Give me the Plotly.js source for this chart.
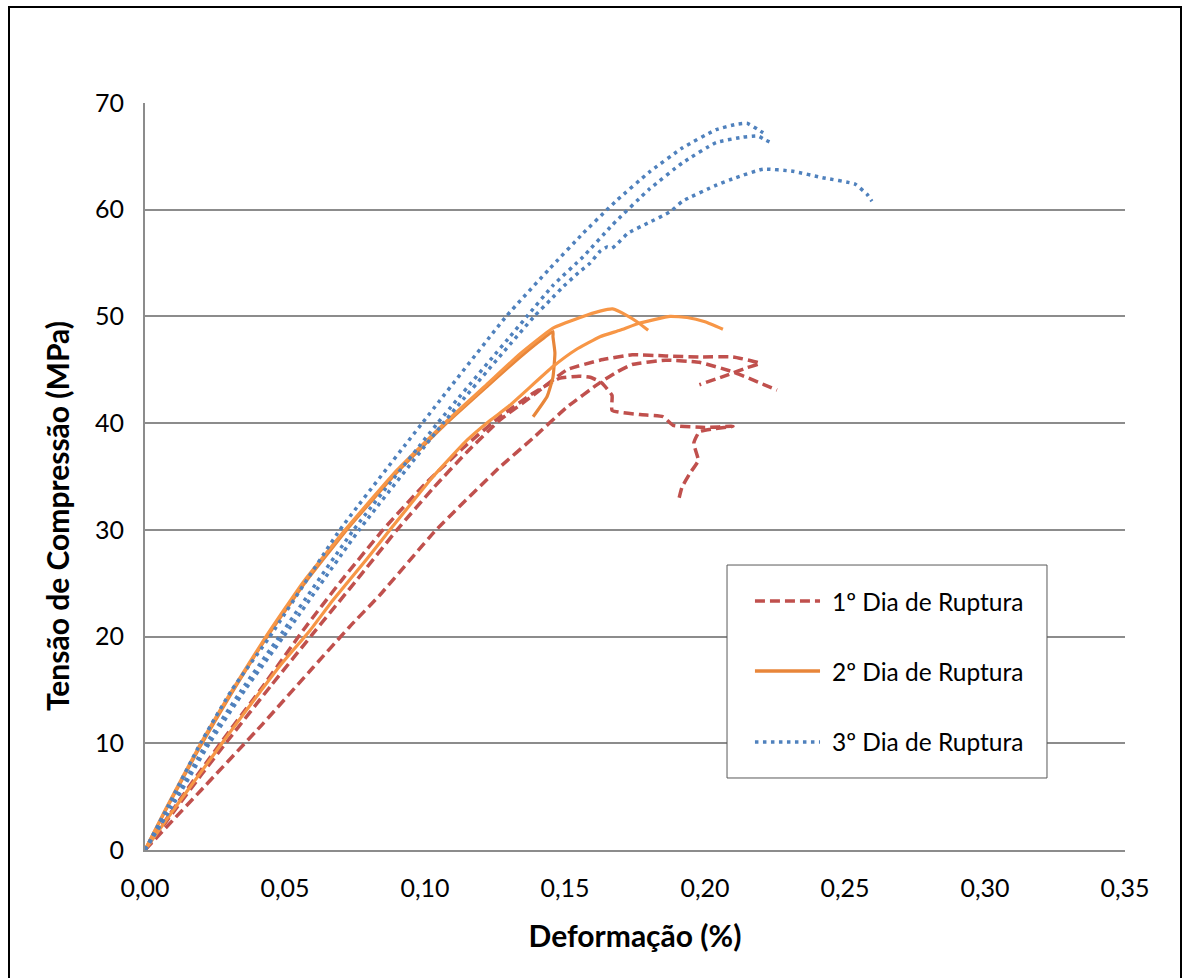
<!DOCTYPE html>
<html>
<head>
<meta charset="utf-8">
<script src="https://cdn.plot.ly/plotly-3.0.1.min.js"></script>
<style>
  html, body { margin: 0; padding: 0; background: #ffffff; }
  #wrap { position: relative; width: 1187px; height: 978px; }
  #chart { position: absolute; left: 0; top: 0; width: 1187px; height: 978px; }
  #frame { position: absolute; left: 8px; top: 6px; width: 1170px; height: 1000px;
           border-left: 2px solid #000; border-top: 2px solid #000; border-right: 2px solid #000;
           pointer-events: none; }
</style>
</head>
<body>
<div id="wrap">
  <div id="chart"></div>
  <div id="frame"></div>
</div>
<script>
// ---- Series names ----
const seriesNames = ["1º Dia de Ruptura", "2º Dia de Ruptura", "3º Dia de Ruptura"];
const xTitle = "Deformação (%)";
const yTitle = "Tensão de Compressão (MPa)";

// ---- 1º Dia de Ruptura (three specimens) ----
const r1x = [0, 0.01, 0.02, 0.03, 0.045, 0.061, 0.075, 0.09, 0.1029, 0.115, 0.1268, 0.1386, 0.1507, 0.1625, 0.174, 0.186, 0.198, 0.21, 0.2196, 0.215, 0.2079, 0.198];
const r1y = [0, 3.5, 7.0, 10.4, 15.4, 20.6, 25.1, 30.0, 33.9, 37.3, 40.3, 42.6, 45.0, 45.9, 46.4, 46.3, 46.2, 46.2, 45.6, 45.2, 44.5, 43.6];
const r2x = [0, 0.02, 0.042, 0.06, 0.073, 0.0839, 0.104, 0.1268, 0.1386, 0.1507, 0.1625, 0.1686, 0.174, 0.186, 0.198, 0.21, 0.2257];
const r2y = [0, 5.6, 11.8, 17.1, 20.9, 23.9, 30.0, 35.9, 38.6, 41.5, 43.8, 44.8, 45.5, 45.9, 45.7, 44.8, 43.1];
const r3x = [0, 0.01, 0.02, 0.03, 0.042, 0.0565, 0.07, 0.085, 0.1, 0.115, 0.1268, 0.1386, 0.148, 0.155, 0.159, 0.163, 0.1668, 0.1668, 0.1768, 0.185, 0.1886, 0.2, 0.21, 0.198, 0.196, 0.1976, 0.1946, 0.1918, 0.1904];
const r3y = [0, 3.8, 7.5, 11.1, 15.3, 20.6, 25.2, 30.0, 34.3, 38.0, 40.6, 42.8, 44.2, 44.4, 44.3, 43.8, 42.6, 41.2, 40.8, 40.6, 39.8, 39.6, 39.7, 39.2, 38.1, 36.5, 35.3, 34.0, 32.6];

// ---- 2º Dia de Ruptura ----
const o1x = [0, 0.0075, 0.0195, 0.03, 0.0436, 0.057, 0.072, 0.09, 0.1077, 0.122, 0.134, 0.1457, 0.1457, 0.1464, 0.1457, 0.1436, 0.1386];
const o1y = [0, 3.8, 9.6, 14.3, 20, 25.0, 30, 35.4, 40, 43.4, 46.2, 48.6, 48.1, 46.6, 44.3, 42.5, 40.6];
const o2x = [0, 0.0075, 0.0193, 0.0298, 0.0432, 0.0565, 0.0715, 0.09, 0.107, 0.122, 0.134, 0.1457, 0.1554, 0.1625, 0.167, 0.172, 0.1757, 0.1797];
const o2y = [0, 3.9, 9.7, 14.4, 20, 25.1, 30, 35.6, 40, 43.6, 46.5, 48.9, 49.9, 50.5, 50.7, 50.1, 49.5, 48.7];
const o3x = [0, 0.01, 0.02, 0.03, 0.048, 0.059, 0.0671, 0.0793, 0.0875, 0.1029, 0.115, 0.123, 0.13, 0.1457, 0.154, 0.1625, 0.1696, 0.177, 0.1875, 0.1936, 0.2, 0.2064];
const o3y = [0, 3.7, 7.3, 10.9, 17.2, 20.6, 23.4, 27.3, 30.0, 35.0, 38.4, 40.2, 41.6, 45.3, 46.9, 48.1, 48.7, 49.4, 50.0, 49.9, 49.5, 48.8];

// ---- 3º Dia de Ruptura ----
const b1x = [0, 0.008, 0.0198, 0.031, 0.0446, 0.0696, 0.099, 0.129, 0.1446, 0.1565, 0.165, 0.1686, 0.18, 0.192, 0.204, 0.211, 0.215, 0.219, 0.2214];
const b1y = [0, 4.0, 10, 15.0, 20, 30, 40, 50, 54.5, 57.8, 60, 60.9, 63.5, 65.8, 67.5, 68.0, 68.1, 67.5, 67.1];
const b2x = [0, 0.009, 0.022, 0.0345, 0.048, 0.0745, 0.1045, 0.1364, 0.1457, 0.1565, 0.167, 0.18, 0.192, 0.204, 0.2136, 0.219, 0.2218, 0.2243];
const b2y = [0, 4.0, 10, 15.0, 20, 30, 40, 50, 52.9, 55.6, 58.6, 61.9, 64.4, 66.3, 66.8, 66.9, 66.5, 66.2];
const b3x = [0, 0.0095, 0.023, 0.0357, 0.0495, 0.0765, 0.1065, 0.139, 0.1446, 0.149, 0.1548, 0.159, 0.1625, 0.165, 0.1668, 0.169, 0.1725, 0.18, 0.1875, 0.192, 0.204, 0.211, 0.2207, 0.2314, 0.242, 0.2536, 0.258, 0.2596];
const b3y = [0, 4.0, 10, 15.0, 20, 30, 40, 50, 51.5, 52.7, 54.1, 55.0, 56.1, 56.5, 56.4, 56.9, 57.8, 58.8, 59.8, 60.8, 62.3, 63.0, 63.8, 63.6, 63.0, 62.4, 61.4, 60.8];

// ---- Axis ticks ----
const xTicks = [0, 0.05, 0.10, 0.15, 0.20, 0.25, 0.30, 0.35];
const yTicks = [0, 10, 20, 30, 40, 50, 60, 70];

const RED = "#C0504D", ORANGE = "#F79646", ORANGE_D = "#E8863A", BLUE = "#4F81BD";
const FONT = "Lato, 'Open Sans', 'Noto Sans', sans-serif";

const styles = [
  {color: RED, dash: "10px,5px", width: 3.5},
  {color: ORANGE, dash: "solid", width: 3.2},
  {color: BLUE, dash: "3.5px,4.5px", width: 3.5}
];

function tr(x, y, g, colorOverride) {
  const s = styles[g];
  return {
    x: x, y: y, type: "scatter", mode: "lines",
    name: seriesNames[g], legendgroup: "g" + g, showlegend: false,
    line: {color: colorOverride || s.color, dash: s.dash, width: s.width, shape: "spline", smoothing: 0.4},
    hoverinfo: "x+y+name"
  };
}

const data = [
  tr(r1x, r1y, 0), tr(r2x, r2y, 0), tr(r3x, r3y, 0),
  tr(o1x, o1y, 1, ORANGE_D), tr(o2x, o2y, 1), tr(o3x, o3y, 1),
  tr(b1x, b1y, 2), tr(b2x, b2y, 2), tr(b3x, b3y, 2)
];

// ---- manual legend (box, samples, labels) in paper coords ----
const L = {x0: 0.5939, x1: 0.9204, y0: 0.0964, y1: 0.3815, sx0: 0.6224, sx1: 0.6888, tx: 0.699, rows: [0.3333, 0.2396, 0.1446]};
const shapes = [{
  type: "rect", xref: "paper", yref: "paper", x0: L.x0, x1: L.x1, y0: L.y0, y1: L.y1,
  line: {color: "#595959", width: 1}, fillcolor: "#ffffff", layer: "above"
}];
const annotations = [];
seriesNames.forEach((n, i) => {
  shapes.push({type: "line", xref: "paper", yref: "paper", x0: L.sx0, x1: L.sx1, y0: L.rows[i], y1: L.rows[i],
    line: {color: i === 1 ? ORANGE_D : styles[i].color, dash: styles[i].dash, width: 3.5}, layer: "above"});
  annotations.push({xref: "paper", yref: "paper", x: L.tx, y: L.rows[i], xanchor: "left", yanchor: "middle",
    text: n, showarrow: false, font: {family: FONT, size: 24.5, color: "#000"}});
});
// y-axis title (placed as in the reference, below the axis centre)
annotations.push({xref: "paper", yref: "paper", x: -0.0898, y: 0.447, xanchor: "center", yanchor: "middle",
  textangle: -90, text: "<b>" + yTitle + "</b>", showarrow: false, font: {family: FONT, size: 30, color: "#000"}});

const layout = {
  width: 1187, height: 978,
  margin: {l: 145, r: 62, t: 103, b: 128, pad: 0},
  paper_bgcolor: "#ffffff", plot_bgcolor: "#ffffff",
  separators: ", ",
  showlegend: false,
  font: {family: FONT, size: 25, color: "#000"},
  xaxis: {
    range: [0, 0.35], tickvals: xTicks, tickformat: ".2f",
    showgrid: false, zeroline: false, showline: true, linecolor: "#8C8C8C", linewidth: 2,
    ticks: "outside", ticklen: 15, tickcolor: "rgba(0,0,0,0)",
    tickfont: {family: FONT, size: 25, color: "#000"},
    title: {text: "<b>" + xTitle + "</b>", font: {family: FONT, size: 30, color: "#000"}, standoff: 25},
    automargin: false, fixedrange: true
  },
  yaxis: {
    range: [0, 70], tickvals: yTicks,
    showgrid: true, gridcolor: "#8C8C8C", gridwidth: 2,
    zeroline: false, showline: true, linecolor: "#8C8C8C", linewidth: 2,
    ticks: "outside", ticklen: 14, tickcolor: "rgba(0,0,0,0)",
    tickfont: {family: FONT, size: 25, color: "#000"},
    automargin: false, fixedrange: true
  },
  shapes: shapes,
  annotations: annotations
};

Plotly.newPlot("chart", data, layout, {displayModeBar: false, staticPlot: true});
</script>
</body>
</html>
